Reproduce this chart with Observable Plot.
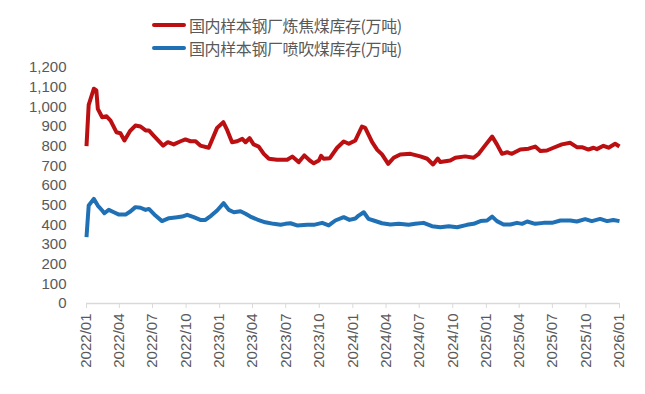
<!DOCTYPE html>
<html>
<head>
<meta charset="utf-8">
<script src="https://cdn.jsdelivr.net/npm/d3@7"></script>
<script src="https://cdn.jsdelivr.net/npm/@observablehq/plot@0.6"></script>
<style>
  html, body { margin: 0; padding: 0; background: #fff; }
  #wrap { position: relative; width: 645px; height: 394px; font-family: "Noto Sans CJK SC", "Liberation Sans", sans-serif; }
  #legend { position: relative; height: 55px; }
  .item { position: absolute; left: 152px; display: flex; align-items: center; font-size: 16px; color: #595959; line-height: 1; letter-spacing: -0.4px; }
  .sw { width: 34px; height: 4px; border-radius: 2px; margin-right: 3px; }
</style>
</head>
<body>
<div id="wrap">
  <div id="legend"></div>
  <div id="chart"></div>
</div>
<script>
const seriesNames = ["国内样本钢厂炼焦煤库存(万吨)", "国内样本钢厂喷吹煤库存(万吨)"];
const seriesColors = ["#BB0F12", "#1F70B5"];

const cokingDates = ["2022-01-01","2022-01-07","2022-01-21","2022-01-28","2022-02-01","2022-02-13","2022-02-25","2022-03-08","2022-03-24","2022-04-04","2022-04-15","2022-04-30","2022-05-15","2022-05-29","2022-06-12","2022-06-21","2022-07-04","2022-07-30","2022-08-12","2022-08-28","2022-09-16","2022-09-29","2022-10-13","2022-10-27","2022-11-09","2022-12-02","2022-12-25","2023-01-11","2023-01-22","2023-02-04","2023-02-18","2023-03-04","2023-03-13","2023-03-24","2023-04-04","2023-04-18","2023-05-02","2023-05-16","2023-06-07","2023-07-05","2023-07-19","2023-08-06","2023-08-21","2023-09-05","2023-09-16","2023-09-30","2023-10-06","2023-10-13","2023-10-30","2023-11-19","2023-12-07","2023-12-21","2024-01-08","2024-01-26","2024-02-04","2024-02-23","2024-03-08","2024-03-21","2024-04-07","2024-04-22","2024-05-10","2024-06-07","2024-07-04","2024-07-23","2024-08-08","2024-08-21","2024-08-28","2024-09-24","2024-10-08","2024-11-04","2024-11-27","2024-12-11","2024-12-25","2025-01-17","2025-01-30","2025-02-13","2025-02-27","2025-03-12","2025-04-04","2025-04-27","2025-05-15","2025-05-29","2025-06-16","2025-07-04","2025-07-27","2025-08-19","2025-09-06","2025-09-20","2025-10-08","2025-10-22","2025-10-31","2025-11-18","2025-12-02","2025-12-20","2026-01-01"];
const cokingValues = [800,1010,1092,1083,990,947,952,930,871,866,829,876,905,900,880,880,854,803,820,809,825,834,825,825,803,792,893,922,880,820,825,837,820,841,809,798,761,736,731,731,747,719,753,727,713,727,751,736,739,792,824,812,829,900,893,820,781,758,710,741,758,761,748,736,707,737,719,727,741,748,741,761,795,849,809,761,769,761,783,787,798,775,778,792,809,817,795,795,783,792,785,802,792,812,798];

const pciDates = ["2022-01-01","2022-01-07","2022-01-21","2022-02-01","2022-02-13","2022-02-19","2022-03-03","2022-03-17","2022-03-31","2022-04-18","2022-05-02","2022-05-15","2022-05-29","2022-06-12","2022-06-21","2022-07-09","2022-07-27","2022-08-15","2022-09-07","2022-09-20","2022-10-04","2022-10-22","2022-11-09","2022-11-23","2022-12-09","2022-12-25","2023-01-12","2023-01-26","2023-02-09","2023-02-27","2023-03-13","2023-03-26","2023-04-14","2023-05-06","2023-05-29","2023-06-17","2023-06-30","2023-07-14","2023-08-01","2023-08-29","2023-09-16","2023-10-09","2023-10-27","2023-11-14","2023-12-07","2023-12-23","2024-01-08","2024-01-17","2024-01-31","2024-02-13","2024-02-27","2024-03-21","2024-04-13","2024-05-06","2024-06-02","2024-06-20","2024-07-13","2024-08-05","2024-08-28","2024-09-20","2024-10-13","2024-11-09","2024-11-27","2024-12-16","2025-01-03","2025-01-17","2025-01-30","2025-02-17","2025-03-08","2025-03-26","2025-04-09","2025-04-23","2025-05-15","2025-06-07","2025-06-30","2025-07-23","2025-08-19","2025-09-06","2025-09-29","2025-10-17","2025-11-09","2025-11-28","2025-12-15","2026-01-01"];
const pciValues = [337,498,532,498,473,459,476,464,452,452,469,490,487,476,481,447,419,434,439,442,451,439,425,425,447,473,510,476,464,469,456,442,427,413,405,400,405,408,397,400,400,410,397,422,439,425,432,447,464,430,422,408,402,405,400,405,410,393,388,393,388,400,405,419,422,442,419,402,402,410,405,417,405,410,410,422,422,417,429,419,430,419,425,419];

const yTicks = [0,100,200,300,400,500,600,700,800,900,1000,1100,1200];
const xTickLabels = ["2022/01","2022/04","2022/07","2022/10","2023/01","2023/04","2023/07","2023/10","2024/01","2024/04","2024/07","2024/10","2025/01","2025/04","2025/07","2025/10","2026/01"];

const parse = d3.utcParse("%Y-%m-%d");
const data = [
  ...cokingDates.map((d, i) => ({date: parse(d), value: cokingValues[i], series: seriesNames[0]})),
  ...pciDates.map((d, i) => ({date: parse(d), value: pciValues[i], series: seriesNames[1]}))
];
const xTicks = xTickLabels.map(s => d3.utcParse("%Y/%m")(s));

// legend
const legend = document.getElementById("legend");
seriesNames.forEach((name, i) => {
  const it = document.createElement("div");
  it.className = "item";
  it.style.top = (17 + i * 23) + "px";
  it.innerHTML = `<span class="sw" style="background:${seriesColors[i]}"></span><span>${name}</span>`;
  legend.appendChild(it);
});

const chart = Plot.plot({
  width: 645,
  height: 339,
  marginLeft: 86,
  marginRight: 26,
  marginTop: 12,
  marginBottom: 91,
  style: {fontFamily: "'Liberation Sans', Arial, sans-serif", fontSize: "15px", color: "#595959", background: "#fff"},
  x: {type: "utc", domain: [xTicks[0], xTicks[xTicks.length - 1]]},
  y: {domain: [0, 1200]},
  color: {domain: seriesNames, range: seriesColors},
  marks: [
    Plot.axisY({ticks: yTicks, tickSize: 0, tickPadding: 20, tickFormat: d3.format(","), label: null, fontSize: 15}),
    Plot.axisX({ticks: xTicks, tickSize: 5, tickPadding: 5, tickRotate: -90, tickFormat: d3.utcFormat("%Y/%m"), label: null, stroke: "#d9d9d9", fontSize: 15, fill: "#595959"}),
    Plot.ruleY([0], {stroke: "#d9d9d9", strokeWidth: 1.5}),
    Plot.line(data, {x: "date", y: "value", z: "series", stroke: "series", strokeWidth: 4, strokeLinejoin: "round", strokeLinecap: "butt"})
  ]
});
document.getElementById("chart").appendChild(chart);
</script>
</body>
</html>
